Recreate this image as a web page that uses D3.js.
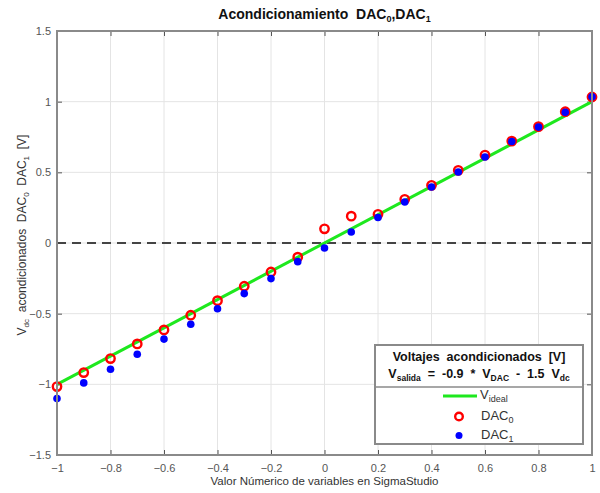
<!DOCTYPE html>
<html>
<head>
<meta charset="utf-8">
<script src="https://cdn.jsdelivr.net/npm/d3@7"></script>
<style>
  body { margin: 0; background: #fff; }
  svg { font-family: Arial, "Liberation Sans", sans-serif; }
  svg text { white-space: pre; }
</style>
</head>
<body>
<svg id="chart" width="600" height="493"></svg>
<script>
// data
var xValues = [-1, -0.9, -0.8, -0.7, -0.6, -0.5, -0.4, -0.3, -0.2, -0.1, 0, 0.1, 0.2, 0.3, 0.4, 0.5, 0.6, 0.7, 0.8, 0.9, 1];
var dac0 = [-1.016, -0.917, -0.818, -0.714, -0.615, -0.511, -0.408, -0.306, -0.205, -0.1, 0.10, 0.19, 0.203, 0.309, 0.408, 0.514, 0.622, 0.721, 0.823, 0.929, 1.033];
var dac1 = [-1.10, -0.99, -0.893, -0.787, -0.68, -0.575, -0.465, -0.358, -0.252, -0.132, -0.035, 0.078, 0.18, 0.29, 0.396, 0.502, 0.608, 0.718, 0.82, 0.925, 1.035];
var idealX = [-1, 1];
var idealY = [-1, 1];
var xTicks = [-1, -0.8, -0.6, -0.4, -0.2, 0, 0.2, 0.4, 0.6, 0.8, 1];
var yTicks = [-1.5, -1, -0.5, 0, 0.5, 1, 1.5];

var svg = d3.select("#chart"),
    margin = {top: 31, right: 8, bottom: 38, left: 57},
    width = +svg.attr("width") - margin.left - margin.right,
    height = +svg.attr("height") - margin.top - margin.bottom,
    g = svg.append("g").attr("transform", "translate(" + margin.left + "," + margin.top + ")");

var x = d3.scaleLinear().domain([-1, 1]).range([0, width]);
var y = d3.scaleLinear().domain([-1.5, 1.5]).range([height, 0]);

var green = "#1ee81e";

// grid
g.append("g").selectAll("line").data(xTicks).enter().append("line")
    .attr("x1", d => x(d)).attr("x2", d => x(d))
    .attr("y1", 0).attr("y2", height)
    .attr("stroke", "#e4e4e4").attr("stroke-width", 1);
g.append("g").selectAll("line").data(yTicks).enter().append("line")
    .attr("y1", d => y(d)).attr("y2", d => y(d))
    .attr("x1", 0).attr("x2", width)
    .attr("stroke", "#e4e4e4").attr("stroke-width", 1);

// axes
function styleAxis(sel) {
    sel.select(".domain").remove();
    sel.selectAll(".tick line").attr("stroke", "#555");
    sel.selectAll(".tick text").attr("fill", "#555").attr("font-size", 11);
}
g.append("g").attr("transform", "translate(0," + height + ")")
    .call(d3.axisBottom(x).tickValues(xTicks).tickSize(-5).tickPadding(9).tickFormat(d3.format("")))
    .call(styleAxis);
g.append("g")
    .call(d3.axisLeft(y).tickValues(yTicks).tickSize(-5).tickPadding(6).tickFormat(d3.format("")))
    .call(styleAxis);
g.append("g")
    .call(d3.axisTop(x).tickValues(xTicks).tickSize(-5).tickFormat(""))
    .call(styleAxis);
g.append("g").attr("transform", "translate(" + width + ",0)")
    .call(d3.axisRight(y).tickValues(yTicks).tickSize(-5).tickFormat(""))
    .call(styleAxis);

// zero dashed line
g.append("line")
    .attr("x1", 0).attr("x2", width)
    .attr("y1", y(0)).attr("y2", y(0))
    .attr("stroke", "#444").attr("stroke-width", 2.2)
    .attr("stroke-dasharray", "9,6");

// ideal line
var line = d3.line().x(d => x(d[0])).y(d => y(d[1]));
g.append("path")
    .datum(d3.zip(idealX, idealY))
    .attr("d", line)
    .attr("fill", "none")
    .attr("stroke", green)
    .attr("stroke-width", 3);

// DAC0 open circles
g.append("g").selectAll("circle").data(d3.zip(xValues, dac0)).enter().append("circle")
    .attr("cx", d => x(d[0])).attr("cy", d => y(d[1]))
    .attr("r", 4.2)
    .attr("fill", "none")
    .attr("stroke", "#ff0000")
    .attr("stroke-width", 2.4);

// DAC1 dots
g.append("g").selectAll("circle").data(d3.zip(xValues, dac1)).enter().append("circle")
    .attr("cx", d => x(d[0])).attr("cy", d => y(d[1]))
    .attr("r", 3.8)
    .attr("fill", "#0000ff");

// box
g.append("rect")
    .attr("width", width).attr("height", height)
    .attr("fill", "none")
    .attr("stroke", "#8a8a8a")
    .attr("stroke-width", 2);

// title
var title = svg.append("text")
    .attr("x", margin.left + width / 2)
    .attr("y", 19)
    .attr("text-anchor", "middle")
    .attr("font-size", 14)
    .attr("font-weight", "bold")
    .attr("fill", "#111");
title.append("tspan").text("Acondicionamiento  DAC");
title.append("tspan").attr("font-size", 9).attr("dy", 3).text("0");
title.append("tspan").attr("dy", -3).text(",DAC");
title.append("tspan").attr("font-size", 9).attr("dy", 3).text("1");

// x label
svg.append("text")
    .attr("x", margin.left + width / 2)
    .attr("y", 485)
    .attr("text-anchor", "middle")
    .attr("font-size", 11.5)
    .attr("fill", "#333")
    .text("Valor Númerico de variables en SigmaStudio");

// y label
var yl = svg.append("text")
    .attr("transform", "translate(26," + (margin.top + height / 2 - 8) + ") rotate(-90)")
    .attr("text-anchor", "middle")
    .attr("font-size", 12)
    .attr("fill", "#333");
yl.append("tspan").text("V");
yl.append("tspan").attr("font-size", 8).attr("dy", 3).text("dc");
yl.append("tspan").attr("dy", -3).text("  acondicionados  DAC");
yl.append("tspan").attr("font-size", 8).attr("dy", 3).text("0");
yl.append("tspan").attr("dy", -3).text("  DAC");
yl.append("tspan").attr("font-size", 8).attr("dy", 3).text("1");
yl.append("tspan").attr("dy", -3).text("  [V]");

// legend
var lg = svg.append("g");
var lx0 = 375, ly0 = 345, lx1 = 583, ly1 = 444;
lg.append("rect")
    .attr("x", lx0).attr("y", ly0)
    .attr("width", lx1 - lx0).attr("height", ly1 - ly0)
    .attr("fill", "#fff")
    .attr("stroke", "#8a8a8a")
    .attr("stroke-width", 2);
lg.append("line")
    .attr("x1", lx0).attr("x2", lx1)
    .attr("y1", 387).attr("y2", 387)
    .attr("stroke", "#8a8a8a").attr("stroke-width", 1.5);
var cx = (lx0 + lx1) / 2;
lg.append("text")
    .attr("x", cx).attr("y", 361)
    .attr("text-anchor", "middle")
    .attr("font-size", 12.5).attr("font-weight", "bold").attr("fill", "#111")
    .text("Voltajes  acondicionados  [V]");
var eq = lg.append("text")
    .attr("x", cx).attr("y", 378)
    .attr("text-anchor", "middle")
    .attr("font-size", 12.5).attr("font-weight", "bold").attr("fill", "#111");
eq.append("tspan").text("V");
eq.append("tspan").attr("font-size", 8.5).attr("dy", 3).text("salida");
eq.append("tspan").attr("dy", -3).text("  =  -0.9  *  V");
eq.append("tspan").attr("font-size", 8.5).attr("dy", 3).text("DAC");
eq.append("tspan").attr("dy", -3).text("  -  1.5  V");
eq.append("tspan").attr("font-size", 8.5).attr("dy", 3).text("dc");

lg.append("line")
    .attr("x1", 443).attr("x2", 477)
    .attr("y1", 396).attr("y2", 396)
    .attr("stroke", green).attr("stroke-width", 3);
var t1 = lg.append("text").attr("x", 480).attr("y", 399).attr("font-size", 13).attr("fill", "#333");
t1.append("tspan").text("V");
t1.append("tspan").attr("font-size", 9).attr("dy", 3).text("ideal");

lg.append("circle").attr("cx", 459).attr("cy", 416.5).attr("r", 3.8)
    .attr("fill", "none").attr("stroke", "#ff0000").attr("stroke-width", 2.4);
var t2 = lg.append("text").attr("x", 481).attr("y", 420).attr("font-size", 13).attr("fill", "#333");
t2.append("tspan").text("DAC");
t2.append("tspan").attr("font-size", 9).attr("dy", 3).text("0");

lg.append("circle").attr("cx", 459).attr("cy", 435.5).attr("r", 3.5)
    .attr("fill", "#0000ff");
var t3 = lg.append("text").attr("x", 481).attr("y", 439).attr("font-size", 13).attr("fill", "#333");
t3.append("tspan").text("DAC");
t3.append("tspan").attr("font-size", 9).attr("dy", 3).text("1");
</script>
</body>
</html>
